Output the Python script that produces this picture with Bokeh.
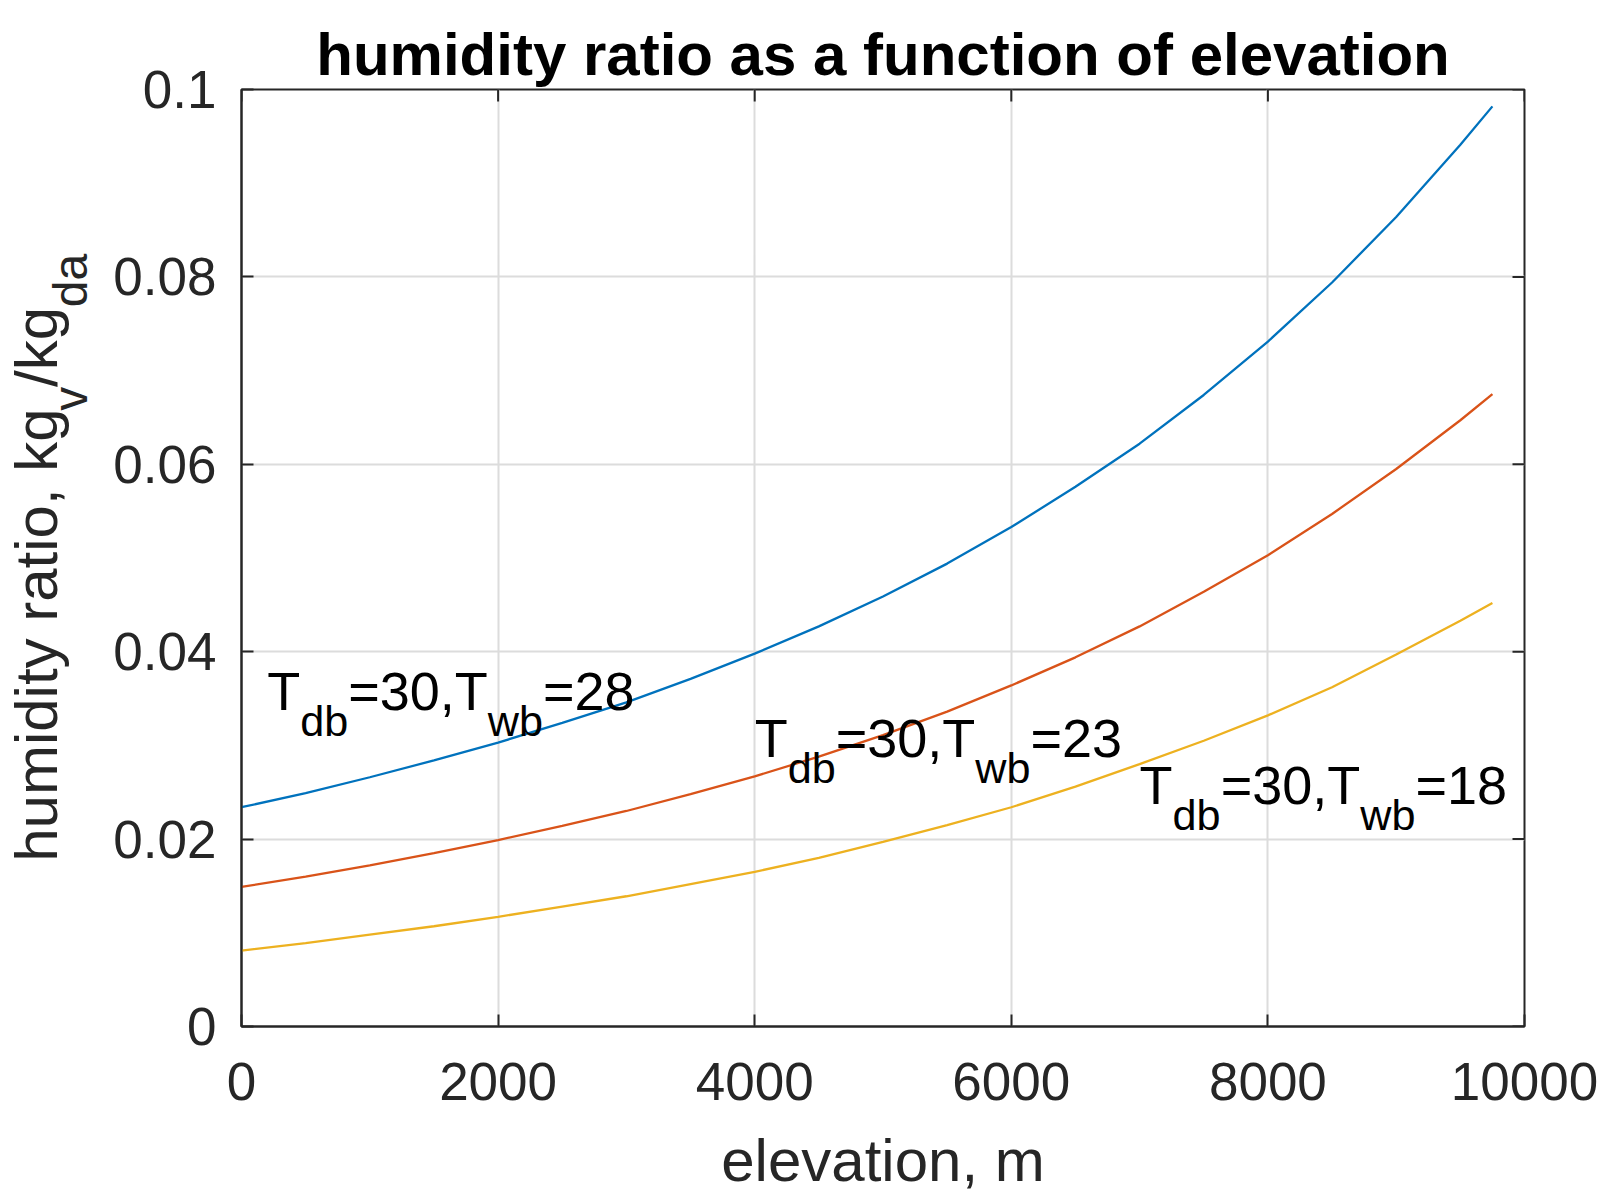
import math
from bokeh.plotting import figure
from bokeh.layouts import row
from bokeh.models import Range1d, FixedTicker, Label
from bokeh.core.properties import value
from bokeh.embed import file_html
from bokeh.resources import INLINE

# ---------------- data ----------------
elevation = [0, 500, 1000, 1500, 2000, 2500, 3000, 3500, 4000, 4500, 5000,
             5500, 6000, 6500, 7000, 7500, 8000, 8500, 9000, 9500, 9750]
w_twb28 = [0.0234, 0.0249, 0.0266, 0.0284, 0.0303, 0.0324, 0.0346, 0.0371, 0.0398, 0.0427, 0.0459,
           0.0494, 0.0533, 0.0576, 0.0622, 0.0674, 0.0731, 0.0794, 0.0864, 0.0941, 0.0982]
w_twb23 = [0.0149, 0.0160, 0.0172, 0.0185, 0.0199, 0.0214, 0.0230, 0.0248, 0.0267, 0.0288, 0.0311,
           0.0336, 0.0364, 0.0394, 0.0427, 0.0464, 0.0503, 0.0547, 0.0595, 0.0647, 0.0675]
w_twb18 = [0.0081, 0.0089, 0.0098, 0.0107, 0.0117, 0.0128, 0.0139, 0.0152, 0.0165, 0.0180, 0.0197,
           0.0215, 0.0234, 0.0256, 0.0280, 0.0305, 0.0332, 0.0362, 0.0397, 0.0433, 0.0452]
series = [w_twb28, w_twb23, w_twb18]
series_colors = ["#0072BD", "#D95319", "#EDB120"]

x_min, x_max = 0, 10000
y_min, y_max = 0, 0.1
x_ticks = [0, 2000, 4000, 6000, 8000, 10000]
x_tick_labels = ["0", "2000", "4000", "6000", "8000", "10000"]
y_ticks = [0, 0.02, 0.04, 0.06, 0.08, 0.1]
y_tick_labels = ["0", "0.02", "0.04", "0.06", "0.08", "0.1"]

t_db = 30
t_wb = [28, 23, 18]
label_x = [200, 4000, 7000]
label_y = [0.035, 0.03, 0.025]

title_text = "humidity ratio as a function of elevation"
x_label_text = "elevation, m"
y_label_pieces = [("humidity ratio, kg", False), ("v", True), ("/kg", False), ("da", True)]

# ---------------- layout constants ----------------
FONT = "Liberation Sans"
INK = "#262626"
W, H = 1600, 1196
WL = 100                      # width of the strip holding the y-axis label
WM = W - WL                   # main figure width
BL, BR, BT, BB = 141, 76, 89, 165
FW, FH = WM - BL - BR, H - BT - BB  # 1283 x 942

TICK_FS = 53
TEXT_FS = 54
LABEL_FS = 60
SUB = 0.8
LABEL_FIX = 0.31   # em: shift of the "alphabetic" anchor for Label annotations
GLYPH_FIX = 0.40   # em: same for text glyphs

CHAR_W = {" ": 278, ",": 278, "/": 278, "=": 584, "T": 611, "a": 556, "b": 556, "d": 556,
          "e": 556, "g": 556, "h": 556, "i": 222, "k": 500, "l": 222, "m": 833, "n": 556,
          "o": 556, "r": 333, "t": 278, "u": 556, "v": 500, "w": 722, "y": 500}
for ch in "0123456789":
    CHAR_W[ch] = 556


def text_width(s, size):
    return sum(CHAR_W.get(c, 556) for c in s) / 1000.0 * size


p = figure(width=WM, height=H, x_range=Range1d(x_min, x_max), y_range=Range1d(y_min, y_max),
           output_backend="svg", toolbar_location=None,
           min_border_left=BL, min_border_right=BR, min_border_top=BT, min_border_bottom=BB)
p.background_fill_color = "white"
p.border_fill_color = "white"
p.outline_line_color = INK
p.outline_line_width = 2

# title
p.title.text = title_text
p.title.text_font = FONT
p.title.text_font_size = f"{LABEL_FS}px"
p.title.text_font_style = "bold"
p.title.text_color = "black"
p.title.align = "center"
p.title.standoff = 3


def style_axis(ax, ticks, labels, standoff):
    ax.ticker = FixedTicker(ticks=ticks)
    ax.major_label_overrides = {t: l for t, l in zip(ticks, labels)}
    ax.axis_line_color = INK
    ax.axis_line_width = 2
    ax.major_tick_line_color = INK
    ax.major_tick_line_width = 2
    ax.major_tick_in = 12
    ax.major_tick_out = 0
    ax.minor_tick_line_color = None
    ax.major_label_text_font = FONT
    ax.major_label_text_color = INK
    ax.major_label_text_font_size = f"{TICK_FS}px"
    ax.major_label_standoff = standoff


style_axis(p.xaxis[0], x_ticks, x_tick_labels, 36)
style_axis(p.yaxis[0], y_ticks, y_tick_labels, 25)
p.xaxis[0].axis_label = x_label_text
p.xaxis[0].axis_label_text_font = FONT
p.xaxis[0].axis_label_text_font_size = f"{LABEL_FS}px"
p.xaxis[0].axis_label_text_font_style = "normal"
p.xaxis[0].axis_label_text_color = INK
p.xaxis[0].axis_label_standoff = 24

# tick marks on the top and right edges of the box (inner half of a dash marker)
p.scatter(x=x_ticks, y=[y_max] * len(x_ticks), marker="dash", size=24, angle=math.pi / 2,
          line_color=INK, line_width=2)
p.scatter(x=[x_max] * len(y_ticks), y=y_ticks, marker="dash", size=24, angle=0,
          line_color=INK, line_width=2)

p.xgrid.ticker = FixedTicker(ticks=x_ticks)
p.ygrid.ticker = FixedTicker(ticks=y_ticks)
for g in (p.xgrid, p.ygrid):
    g.grid_line_color = "#dcdcdc"
    g.grid_line_width = 2

for ys, col in zip(series, series_colors):
    p.line(elevation, ys, line_color=col, line_width=2.3)

# annotations T_db=30,T_wb=..
for xi, yi, tw in zip(label_x, label_y, t_wb):
    pieces = [("T", False), ("db", True), (f"={t_db},T", False), ("wb", True), (f"={tw}", False)]
    off = 0.0
    for txt, sub in pieces:
        fs = TEXT_FS * SUB if sub else TEXT_FS
        dy = (-35.7 if sub else -9.0) + LABEL_FIX * fs
        p.add_layout(Label(x=xi, y=yi, x_offset=off, y_offset=dy,
                           text=txt, text_font=FONT, text_font_size=f"{fs:.1f}px",
                           text_color="black", text_align="left", text_baseline="alphabetic"))
        off += text_width(txt, fs)

# ---------------- y-axis label strip (rotated text with subscripts) ----------------
# In a row, this strip's frame is aligned with the main frame (same top/bottom borders),
# so its y range spans the frame height in pixels.
left = figure(width=WL, height=H, x_range=Range1d(0, WL), y_range=Range1d(0, FH),
              output_backend="svg", toolbar_location=None, x_axis_type=None, y_axis_type=None,
              min_border_left=0, min_border_right=0, min_border_top=BT, min_border_bottom=BB)
left.outline_line_color = None
left.background_fill_color = "white"
left.border_fill_color = "white"
left.xgrid.visible = False
left.ygrid.visible = False

total = sum(text_width(t, LABEL_FS * SUB if s else LABEL_FS) for t, s in y_label_pieces)
pos = FH / 2 - total / 2
for txt, sub in y_label_pieces:
    fs = LABEL_FS * SUB if sub else LABEL_FS
    base_x = 89.0 if sub else 60.0
    left.text(x=[base_x - GLYPH_FIX * fs], y=[pos], text=[txt], angle=math.pi / 2,
              text_font=value(FONT), text_font_size=value(f"{fs:.1f}px"), text_color=INK,
              text_align="left", text_baseline="alphabetic")
    pos += text_width(txt, fs)

layout = row(left, p, spacing=0)
open("out.html", "w").write(file_html(layout, INLINE))
